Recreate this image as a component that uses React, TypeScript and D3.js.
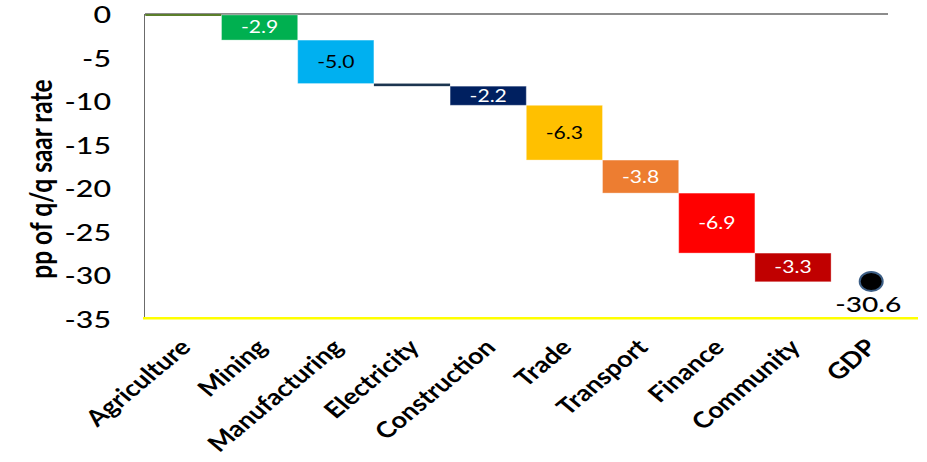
import React from "react";
import * as d3 from "d3";

const categories = ["Agriculture","Mining","Manufacturing","Electricity","Construction","Trade","Transport","Finance","Community","GDP"];
const contributions = [-0.1, -2.9, -5.0, -0.3, -2.2, -6.3, -3.8, -6.9, -3.3];
const valueLabels = ["", "-2.9", "-5.0", "", "-2.2", "-6.3", "-3.8", "-6.9", "-3.3"];
const barColors = ["#5b7f2b","#00b050","#00b0f0","#1c3550","#002060","#ffc000","#ed7d31","#ff0000","#c00000"];
const labelColors = ["#fff","#fff","#000","#fff","#fff","#000","#fff","#fff","#fff"];
const gdpValue = -30.6;
const yTicks = [0, -5, -10, -15, -20, -25, -30, -35];

const W = 927, H = 462;
const SX = 1.28;
const FONT = "Lato, 'Open Sans', sans-serif";

export default function App() {
  const x = d3.scaleBand<string>().domain(categories).range([145.3, 907.3]).padding(0);
  const y = d3.scaleLinear().domain([0, -35]).range([14, 318.3]);

  let cum = 0;
  const bars = contributions.map((v, i) => {
    const start = cum;
    cum += v;
    return { cat: categories[i], start, end: cum, v, i };
  });

  const gdpX = (x("GDP") as number) + x.bandwidth() / 2 + 2;
  const gdpY = y(gdpValue) + 1.5;

  return (
    <svg width={W} height={H} style={{ position: "absolute", left: 0, top: 0, background: "#fff" }} fontFamily={FONT}>
      <line x1={145} x2={888} y1={y(0)} y2={y(0)} stroke="#8c8c8c" strokeWidth={2} />
      <line x1={144.5} x2={144.5} y1={y(0)} y2={y(-35)} stroke="#6b6b6b" strokeWidth={1} />
      <line x1={143} x2={918} y1={y(-35)} y2={y(-35)} stroke="#ffff00" strokeWidth={2.5} />

      {bars.map((b) => {
        const x0 = x(b.cat) as number;
        const top = y(Math.max(b.start, b.end));
        const bot = y(Math.min(b.start, b.end));
        const h = Math.max(bot - top, 2);
        return (
          <g key={b.cat}>
            <rect x={x0} y={top} width={x.bandwidth()} height={h} fill={barColors[b.i]}
              stroke={b.i > 0 && b.i !== 3 ? "rgba(255,255,255,0.35)" : "none"} strokeWidth={1} />
            {valueLabels[b.i] && (
              <text transform={`translate(${x0 + x.bandwidth() / 2},${(top + bot) / 2}) scale(${SX},1)`}
                textAnchor="middle" dy="0.36em" fontSize={16.5} fill={labelColors[b.i]}>
                {valueLabels[b.i]}
              </text>
            )}
          </g>
        );
      })}

      <ellipse cx={gdpX} cy={gdpY} rx={11.5} ry={9.5} fill="#000" stroke="#3d5f86" strokeWidth={2} />
      <text transform={`translate(${gdpX - 3},${312}) scale(${SX},1)`} textAnchor="middle" fontSize={22} fontWeight={500} fill="#000">
        {gdpValue.toFixed(1)}
      </text>

      {yTicks.map((t) => (
        <text key={t} transform={`translate(111,${y(t) + 1}) scale(1.32,1)`} textAnchor="end" dy="0.36em"
          fontSize={23} fontWeight={500} fill="#000">
          {t}
        </text>
      ))}

      <text transform={`translate(41,179) scale(${SX},1) rotate(-90)`} textAnchor="middle" dy="0.36em"
        fontSize={24.5} fontWeight={700} fill="#000">
        pp of q/q saar rate
      </text>

      {categories.map((c) => {
        const cx = (x(c) as number) + x.bandwidth() / 2;
        return (
          <text key={c} transform={`translate(${cx + 2},${343}) scale(1.2,1) rotate(-45)`} textAnchor="end" dy="0.36em"
            fontSize={22.5} fontWeight={700} fill="#000">
            {c}
          </text>
        );
      })}
    </svg>
  );
}
